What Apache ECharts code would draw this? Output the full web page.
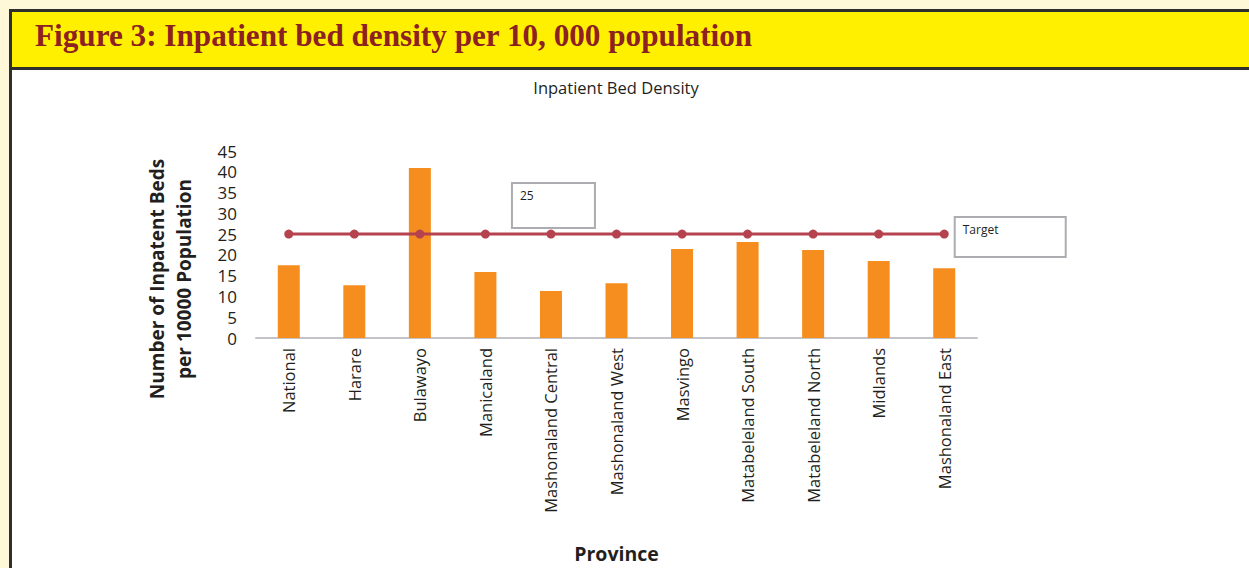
<!DOCTYPE html>
<html><head><meta charset="utf-8">
<script src="https://cdn.jsdelivr.net/npm/echarts@6/dist/echarts.min.js"></script>
<style>
html,body{margin:0;padding:0;background:#fff8d8;overflow:hidden;}
#frame{position:absolute;left:9px;top:9px;width:1400px;height:800px;border:3px solid #2e2e2e;background:#fff;}
#hdr{height:55px;background:#fff000;border-bottom:3px solid #2e2e2e;position:relative;}
#hdr span{position:absolute;left:23px;top:6px;font:bold 31.2px "Liberation Serif",serif;color:#8c2121;white-space:nowrap;}
#c{position:absolute;left:0;top:0;width:1249px;height:568px;}
</style>
</head><body>
<div id="frame"><div id="hdr"><span>Figure 3: Inpatient bed density per 10, 000 population</span></div></div>
<div id="c"></div>
<script>
const chartTitle = 'Inpatient Bed Density';
const categories = ['National','Harare','Bulawayo','Manicaland','Mashonaland Central','Mashonaland West','Masvingo','Matabeleland South','Matabeleland North','Midlands','Mashonaland East'];
const bedDensity = [17.5,12.7,40.9,15.9,11.3,13.2,21.4,23.1,21.2,18.5,16.8];
const targetValues = [25,25,25,25,25,25,25,25,25,25,25];
const targetName = 'Target';
const yMin = 0, yMax = 45, yInterval = 5;
const yTitleLines = ['Number of Inpatent Beds','per 10000 Population'];
const xTitle = 'Province';

const FONT = '"Open Sans", sans-serif';
const boxStyle = {backgroundColor:'#fff',borderColor:'#adadb1',borderWidth:2,align:'left',verticalAlign:'top',fontSize:12,fontFamily:FONT,color:'#231f20'};

const lineData = targetValues.map((v,i)=>{
  if (i === 4) return {value:v,label:Object.assign({show:true,formatter:'{c}',position:[-33.5,-45.5],width:67,height:33,padding:[5,7]},boxStyle)};
  if (i === targetValues.length-1) return {value:v,label:Object.assign({show:true,formatter:'{a}',position:[16,-11.5],width:95,height:28,padding:[5,7]},boxStyle)};
  return v;
});

const chart = echarts.init(document.getElementById('c'), null, {renderer:'svg'});
chart.setOption({
  animation:false,
  textStyle:{fontFamily:FONT},
  title:{text:chartTitle,left:611,top:74,textAlign:'center',textStyle:{fontSize:16.5,fontWeight:'normal',color:'#231f20',fontFamily:FONT}},
  grid:{left:256,right:272,top:151,bottom:230,outerBoundsMode:'none',containLabel:false},
  xAxis:{type:'category',data:categories,
    axisLine:{lineStyle:{color:'#c4c4c8',width:2}},axisTick:{show:false},
    axisLabel:{rotate:90,interval:0,fontSize:16.5,color:'#231f20',margin:10,fontFamily:FONT},
    name:xTitle,nameLocation:'middle',nameGap:205,
    nameTextStyle:{fontSize:19.5,fontWeight:'bold',color:'#231f20',fontFamily:FONT}},
  yAxis:{type:'value',min:yMin,max:yMax,interval:yInterval,
    axisLine:{show:false},axisTick:{show:false},splitLine:{show:false},
    axisLabel:{fontSize:17,color:'#231f20',margin:19,fontFamily:FONT}},
  graphic:yTitleLines.map((t,i)=>({type:'text',x:157+i*27,y:279,rotation:Math.PI/2,
    style:{text:t,textAlign:'center',textVerticalAlign:'middle',font:'bold 19px "Open Sans", sans-serif',fill:'#231f20'}})),
  series:[
    {type:'bar',name:'Bed density',data:bedDensity,barWidth:22,itemStyle:{color:'#f58d1f'}},
    {type:'line',name:targetName,data:lineData,symbol:'circle',symbolSize:9,showAllSymbol:true,
     lineStyle:{color:'#b5424f',width:3},itemStyle:{color:'#b5424f'},z:5}
  ]
});
</script>
</body></html>
